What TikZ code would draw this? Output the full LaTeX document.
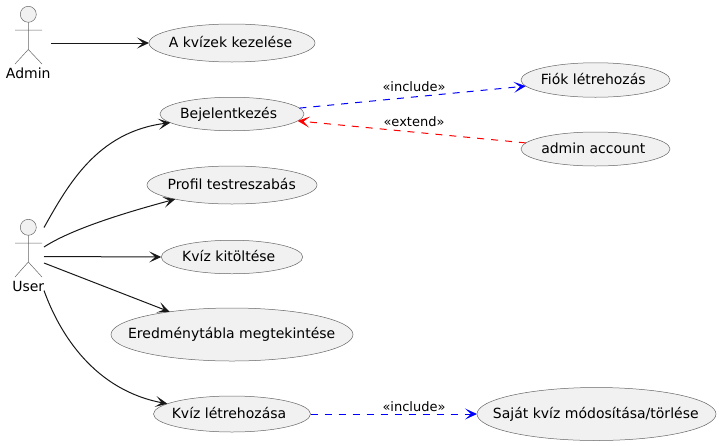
\documentclass[tikz,border=0pt]{standalone}
\usepackage{fontspec}
\setmainfont{DejaVu Sans}
\usetikzlibrary{arrows.meta,shapes.geometric}
\definecolor{ucfill}{HTML}{F1F1F1}
\definecolor{ucline}{HTML}{181818}
\definecolor{ucedge}{HTML}{666666}
% text that takes no room in its ellipse; #1 is its sideways offset from the centre
\newcommand{\uctext}[2]{\hbox to 0pt{\hss\kern#1pt\smash{\raisebox{-4.3pt}{#2}}\kern-#1pt\hss}}
\tikzset{
  uc/.style={ellipse,draw=ucedge,line width=0.5pt,fill=ucfill,inner sep=0pt,outer sep=0pt,text=black,font=\fontsize{14}{16}\selectfont},
  actorhead/.style={draw=ucedge,line width=0.5pt,fill=ucfill},
  actorpart/.style={draw=ucedge,line width=0.5pt},
  actorlabel/.style={inner sep=0pt,text=black,font=\fontsize{14}{16}\selectfont},
  tip/.style={-{Stealth[length=12pt,width=11pt,inset=6pt,#1]}},
  link/.style={draw=ucline,line width=1pt,tip=ucline},
  inc/.style={draw=blue,line width=1pt,dash pattern=on 7pt off 7pt,tip=blue},
  ext/.style={draw=red,line width=1pt,dash pattern=on 7pt off 7pt,tip=red},
  lbl/.style={inner sep=0pt,text=black,font=\fontsize{13}{15}\selectfont},
}
\begin{document}
\begin{tikzpicture}[x=1pt,y=-1pt]
\useasboundingbox (0,0) rectangle (720,445);
% actors
\draw[actorhead] (28.3,14.3) circle (8);
\draw[actorpart] (28.3,22.3) -- (28.3,49.5) (15,30) -- (42,30) (15,64) -- (28.3,49.5) -- (42,64);
\node[actorlabel] (admin) at (28.3,73) {Admin};
\draw[actorhead] (28.3,227.3) circle (8);
\draw[actorpart] (28.3,235.3) -- (28.3,262) (15,243) -- (42,243) (15,277) -- (28.3,262) -- (42,277);
\node[actorlabel] (user) at (28.3,286) {User};
% use cases
\node[uc,minimum width=166pt,minimum height=38pt] (kezel) at (232,43) {\uctext{-1.5}{A kvízek kezelése}};
\node[uc,minimum width=144pt,minimum height=33.5pt] (bej) at (232,114) {\uctext{-3.4}{Bejelentkezés}};
\node[uc,minimum width=170pt,minimum height=38pt] (prof) at (232,185) {\uctext{-0.3}{Profil testreszabás}};
\node[uc,minimum width=141.5pt,minimum height=33.5pt] (kit) at (232,257) {\uctext{-3.2}{Kvíz kitöltése}};
\node[uc,minimum width=242pt,minimum height=53pt] (ered) at (232,334.5) {\uctext{-0.3}{Eredménytábla megtekintése}};
\node[uc,minimum width=157pt,minimum height=36pt] (letr) at (232,414) {\uctext{-3}{Kvíz létrehozása}};
\node[uc,minimum width=149pt,minimum height=34.5pt] (fiok) at (595.5,80) {\uctext{-2.2}{Fiók létrehozás}};
\node[uc,minimum width=149pt,minimum height=34pt] (acc) at (595.5,149) {\uctext{-2.2}{admin account}};
\node[uc,minimum width=239pt,minimum height=53pt] (sajat) at (596.5,414) {\uctext{-0.7}{Saját kvíz módosítása/törlése}};
% free ends at the actors
\coordinate (a0) at (51,43);
\coordinate (u1) at (44,227.5);
\coordinate (u2) at (44,247);
\coordinate (u3) at (44,256.5);
\coordinate (u4) at (44,263);
\coordinate (u5) at (44,290.5);
% connectors
\draw[link] (a0) -- (kezel.west);
\draw[link] (u1) .. controls (68,185) and (97,132) .. (bej.188);
\draw[link] (u2) .. controls (70,230) and (120,214) .. (prof.194.7);
\draw[link] (u3) -- (kit.west);
\draw[link] (u4) -- (ered.160);
\draw[link] (u5) .. controls (60,335) and (95,390) .. (letr.171);
\draw[inc] (bej.5) -- (fiok.185);
\node[lbl] (inclbl1) at (414,87) {«include»};
\draw[ext] (acc.175) -- (bej.-6);
\node[lbl] (extlbl) at (414,122) {«extend»};
\draw[inc] (letr.east) -- (sajat.west);
\node[lbl] (inclbl2) at (414,407) {«include»};
\end{tikzpicture}
\end{document}
